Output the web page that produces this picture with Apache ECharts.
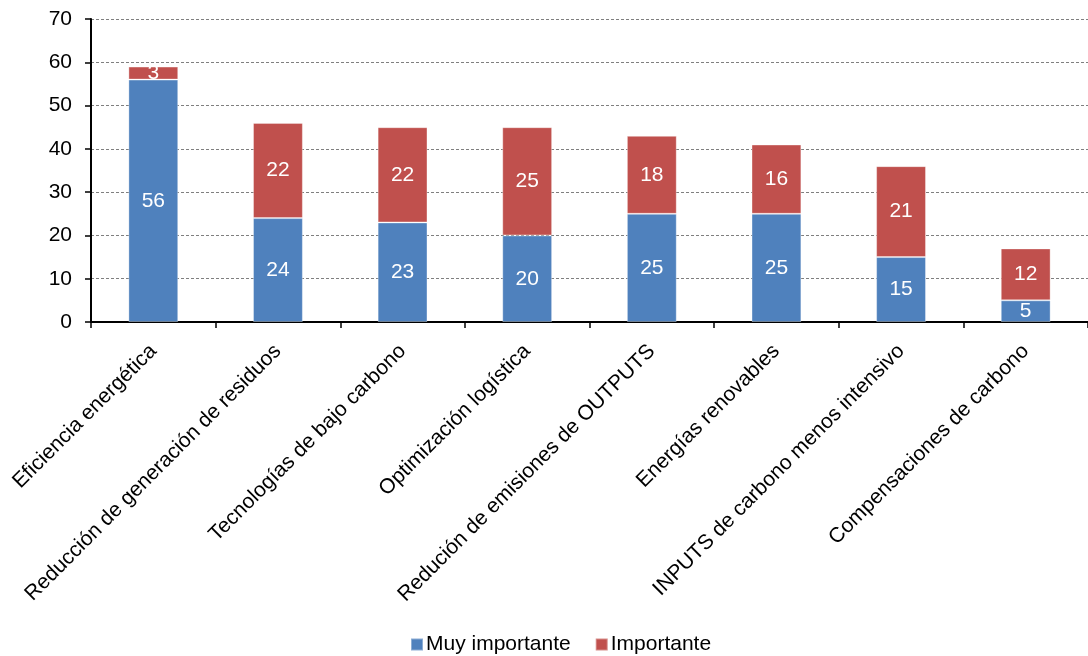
<!DOCTYPE html>
<html>
<head>
<meta charset="utf-8">
<script src="https://cdn.jsdelivr.net/npm/echarts@6/dist/echarts.min.js"></script>
<style>
html,body{margin:0;padding:0;background:#fff;}
#c{width:1088px;height:656px;}
</style>
</head>
<body>
<div id="c"></div>
<script>
const categories = [
  "Eficiencia energética",
  "Reducción de generación de residuos",
  "Tecnologías de bajo carbono",
  "Optimización logística",
  "Redución de emisiones de OUTPUTS",
  "Energías renovables",
  "INPUTS de carbono menos intensivo",
  "Compensaciones de carbono"
];
const muyImportante = [56, 24, 23, 20, 25, 25, 15, 5];
const importante = [3, 22, 22, 25, 18, 16, 21, 12];
const seriesNames = ["Muy importante", "Importante"];

const FONT = "Liberation Sans, Arial, sans-serif";
const FS = 21;
const chart = echarts.init(document.getElementById('c'));
const labelStyle = {
  show: true,
  position: 'inside',
  color: '#ffffff',
  fontSize: FS,
  fontFamily: FONT
};
chart.setOption({
  animation: false,
  textStyle: { fontFamily: FONT },
  grid: { left: 91, right: -11, top: 19, bottom: 334, containLabel: false },
  legend: {
    data: seriesNames,
    left: 405,
    top: 629,
    itemWidth: 12,
    itemHeight: 12,
    itemGap: 24,
    icon: 'rect',
    textStyle: { fontSize: FS, color: '#000', fontFamily: FONT, padding: [0, 0, 0, -2] }
  },
  xAxis: {
    type: 'category',
    data: categories,
    axisLine: { lineStyle: { color: '#000', width: 2 } },
    axisTick: { show: true, length: 6, lineStyle: { color: '#000', width: 1.5 } },
    axisLabel: {
      interval: 0,
      rotate: 45,
      margin: 26,
      fontSize: FS,
      color: '#000',
      fontFamily: FONT
    }
  },
  yAxis: {
    type: 'value',
    min: 0,
    max: 70,
    interval: 10,
    axisLine: { show: true, lineStyle: { color: '#000', width: 2 } },
    axisTick: { show: true, length: 6, lineStyle: { color: '#000', width: 1.5 } },
    axisLabel: { fontSize: FS, color: '#000', margin: 19, fontFamily: FONT },
    splitLine: { show: true, lineStyle: { color: '#7f7f7f', type: [3, 2], width: 1 } }
  },
  series: [
    {
      name: seriesNames[0],
      type: 'bar',
      stack: 'total',
      data: muyImportante,
      barCategoryGap: '60%',
      itemStyle: { color: '#4F81BD', borderColor: 'rgba(255,255,255,0.35)', borderWidth: 1 },
      label: labelStyle
    },
    {
      name: seriesNames[1],
      type: 'bar',
      stack: 'total',
      data: importante,
      barCategoryGap: '60%',
      itemStyle: { color: '#C0504D', borderColor: 'rgba(255,255,255,0.35)', borderWidth: 1 },
      label: labelStyle
    }
  ]
});
</script>
</body>
</html>
